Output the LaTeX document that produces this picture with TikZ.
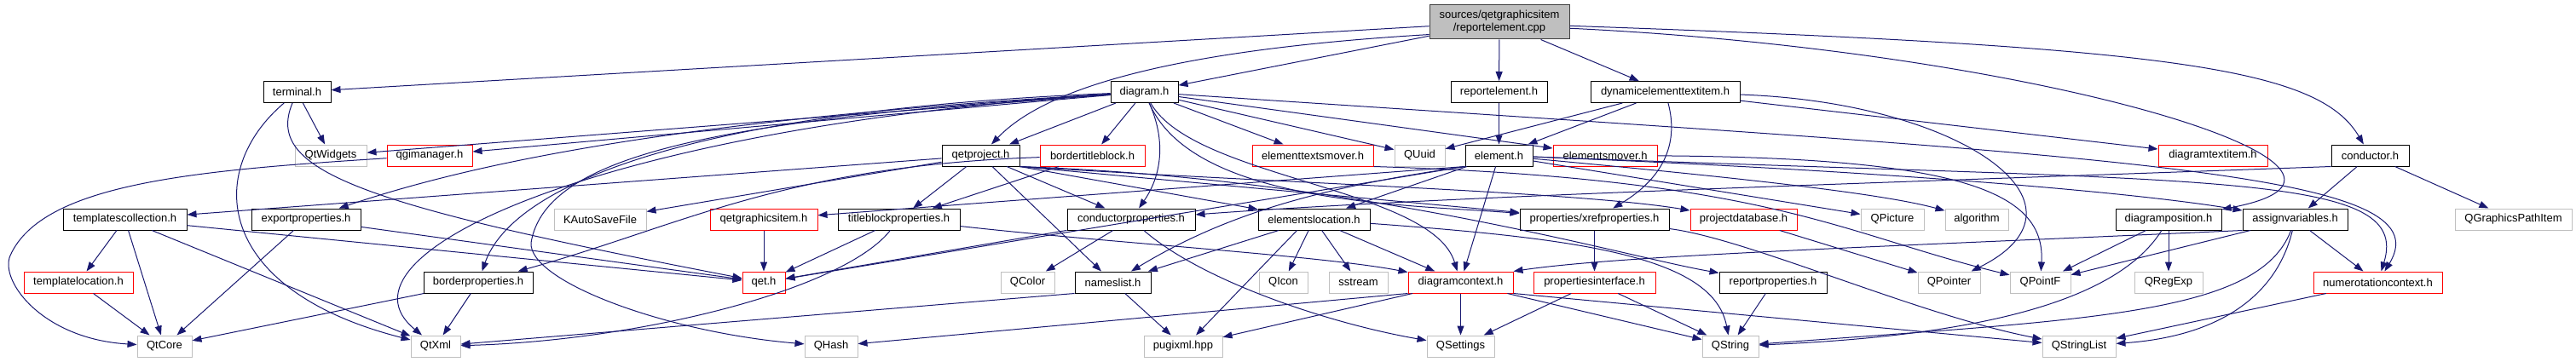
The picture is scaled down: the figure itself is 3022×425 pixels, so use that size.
\documentclass[tikz,border=0pt]{standalone}
\usepackage{fontspec}
\setmainfont{Liberation Sans}
\usetikzlibrary{arrows.meta}
\definecolor{depblue}{HTML}{191970}
\definecolor{extgray}{HTML}{BFBFBF}
\definecolor{truncred}{HTML}{FF0000}

\begin{document}
\begin{tikzpicture}[x=1pt, y=-1pt,
  every node/.style={font=\fontsize{13}{15}\selectfont, inner sep=0pt,
                     minimum height=25pt, line width=1pt},
  hdr/.style={draw=black, fill=white},
  trunc/.style={draw=truncred, fill=white},
  ext/.style={draw=extgray, fill=white},
  mainfile/.style={draw=black!75, fill=extgray, minimum height=40pt, align=center},
  dep/.style={-{Triangle[length=11pt,width=8pt]}, draw=depblue, line width=1pt}
]
\useasboundingbox (0,0) rectangle (3022,425);

\node[mainfile, minimum width=164pt] (root) at (1759,26) {sources/qetgraphicsitem\\/reportelement.cpp};

\node[hdr, minimum width=79pt] (terminal) at (348.5,108) {terminal.h};
\node[hdr, minimum width=79pt] (diagram) at (1342.5,108) {diagram.h};
\node[hdr, minimum width=113pt] (reportel) at (1758.5,108) {reportelement.h};
\node[hdr, minimum width=175pt] (dynitem) at (1953.5,108) {dynamicelementtextitem.h};

\node[ext, minimum width=84pt] (qtwidgets) at (388,182.5) {QtWidgets};
\node[trunc, minimum width=100pt] (qgimanager) at (504,182.5) {qgimanager.h};
\node[hdr, minimum width=91pt] (qetproject) at (1150.5,182.5) {qetproject.h};
\node[trunc, minimum width=123pt] (bordertb) at (1281.5,182.5) {bordertitleblock.h};
\node[trunc, minimum width=142pt] (eltextsmover) at (1540,182.5) {elementtextsmover.h};
\node[ext, minimum width=59pt] (quuid) at (1665.5,182.5) {QUuid};
\node[hdr, minimum width=79pt] (element) at (1758.5,182.5) {element.h};
\node[trunc, minimum width=122pt] (elmover) at (1883,182.5) {elementsmover.h};
\node[trunc, minimum width=128pt] (diagtextitem) at (2596,182.5) {diagramtextitem.h};
\node[hdr, minimum width=91pt] (conductor) at (2780.5,182.5) {conductor.h};

\node[hdr, minimum width=145pt] (tplcoll) at (146.5,257.5) {templatescollection.h};
\node[hdr, minimum width=128pt] (exportprop) at (359,257.5) {exportproperties.h};
\node[ext, minimum width=108pt] (kautosave) at (704,257.5) {KAutoSaveFile};
\node[trunc, minimum width=126pt] (qetgitem) at (896,257.5) {qetgraphicsitem.h};
\node[hdr, minimum width=143pt] (tbprop) at (1054.5,257.5) {titleblockproperties.h};
\node[hdr, minimum width=150pt] (condprop) at (1327,257.5) {conductorproperties.h};
\node[hdr, minimum width=131pt] (elloc) at (1541.5,257.5) {elementslocation.h};
\node[hdr, minimum width=175pt] (xrefprop) at (1870.5,257.5) {properties/xrefproperties.h};
\node[trunc, minimum width=125pt] (projdb) at (2045.5,257.5) {projectdatabase.h};
\node[ext, minimum width=74pt] (qpicture) at (2220,257.5) {QPicture};
\node[ext, minimum width=74pt] (algorithm) at (2319,257.5) {algorithm};
\node[hdr, minimum width=124pt] (diagpos) at (2544,257.5) {diagramposition.h};
\node[hdr, minimum width=123pt] (assignvar) at (2692.5,257.5) {assignvariables.h};
\node[ext, minimum width=137pt] (qgpathitem) at (2948.5,257.5) {QGraphicsPathItem};

\node[trunc, minimum width=128pt] (tplloc) at (92,331.5) {templatelocation.h};
\node[hdr, minimum width=128pt] (borderprop) at (561,331.5) {borderproperties.h};
\node[trunc, minimum width=50pt] (qet) at (896,331.5) {qet.h};
\node[ext, minimum width=63pt] (qcolor) at (1205.5,331.5) {QColor};
\node[hdr, minimum width=89pt] (nameslist) at (1305.5,331.5) {nameslist.h};
\node[ext, minimum width=57pt] (qicon) at (1505.5,331.5) {QIcon};
\node[ext, minimum width=69pt] (sstream) at (1593.5,331.5) {sstream};
\node[trunc, minimum width=123pt] (diagctx) at (1713.5,331.5) {diagramcontext.h};
\node[trunc, minimum width=143pt] (propiface) at (1870.5,331.5) {propertiesinterface.h};
\node[hdr, minimum width=126pt] (reportprop) at (2080,331.5) {reportproperties.h};
\node[ext, minimum width=73pt] (qpointer) at (2286.5,331.5) {QPointer};
\node[ext, minimum width=71pt] (qpointf) at (2393.5,331.5) {QPointF};
\node[ext, minimum width=80pt] (qregexp) at (2544,331.5) {QRegExp};
\node[trunc, minimum width=151pt] (numctx) at (2789.5,331.5) {numerotationcontext.h};

\node[ext, minimum width=64pt] (qtcore) at (193,406.5) {QtCore};
\node[ext, minimum width=58pt] (qtxml) at (511,406.5) {QtXml};
\node[ext, minimum width=62pt] (qhash) at (975,406.5) {QHash};
\node[ext, minimum width=92pt] (pugixml) at (1388,406.5) {pugixml.hpp};
\node[ext, minimum width=79pt] (qsettings) at (1713.5,406.5) {QSettings};
\node[ext, minimum width=66pt] (qstring) at (2030,406.5) {QString};
\node[ext, minimum width=86pt] (qstringlist) at (2439,406.5) {QStringList};

\draw[dep] (root) -- (terminal);
\draw[dep] (root.190) .. controls (1350,60) and (1220,110) .. (qetproject);
\draw[dep] (root) -- (diagram);
\draw[dep] (root) -- (reportel);
\draw[dep] (root) -- (dynitem);
\draw[dep] (root.-3) .. controls (2550,55) and (2720,80) .. (conductor);
\draw[dep] (root.-5) .. controls (2400,60) and (2850,200) .. (diagpos);

\draw[dep] (terminal) -- (qtwidgets);
\draw[dep] (terminal) .. controls (240,200) and (250,340) .. (qtxml);
\draw[dep] (terminal) .. controls (310,200) and (420,240) .. (qet);

\draw[dep] (diagram) -- (qtwidgets);
\draw[dep] (diagram) -- (qgimanager);
\draw[dep] (diagram) .. controls (800,140) and (560,190) .. (exportprop);
\draw[dep] (diagram) .. controls (700,150) and (380,300) .. (qtxml);
\draw[dep] (diagram) .. controls (800,130) and (600,220) .. (borderprop);
\draw[dep] (diagram) .. controls (850,140) and (640,180) .. (623,285) .. controls (620,330) and (780,390) .. (qhash);
\draw[dep] (diagram) -- (qetproject);
\draw[dep] (diagram) -- (bordertb);
\draw[dep] (diagram) .. controls (1370,170) and (1360,210) .. (condprop);
\draw[dep] (diagram) .. controls (1400,210) and (1680,220) .. (diagctx);
\draw[dep] (diagram) -- (eltextsmover);
\draw[dep] (diagram) -- (quuid);
\draw[dep] (diagram) -- (elmover);
\draw[dep] (diagram) .. controls (1400,240) and (1650,240) .. (xrefprop);
\draw[dep] (diagram) .. controls (2500,185) and (2870,200) .. (numctx);

\draw[dep] (qgimanager) .. controls (230,200) and (50,215) .. (12,300) .. controls (-1,330) and (50,398) .. (qtcore);

\draw[dep] (qetproject) -- (tplcoll);
\draw[dep] (qetproject) -- (kautosave);
\draw[dep] (qetproject) -- (tbprop);
\draw[dep] (qetproject) -- (condprop);
\draw[dep] (qetproject) -- (nameslist);
\draw[dep] (qetproject.south east) -- (elloc);
\draw[dep] (qetproject.south east) -- (xrefprop);
\draw[dep] (qetproject.south east) .. controls (1500,215) and (1850,225) .. (projdb);
\draw[dep] (qetproject.south east) .. controls (1600,210) and (1900,300) .. (reportprop);

\draw[dep] (bordertb) -- (tbprop);
\draw[dep] (bordertb) .. controls (920,195) and (800,265) .. (borderprop);

\draw[dep] (dynitem) -- (quuid);
\draw[dep] (dynitem) -- (element);
\draw[dep] (dynitem) .. controls (1970,170) and (1950,210) .. (xrefprop);
\draw[dep] (dynitem) -- (diagtextitem);
\draw[dep] (dynitem) .. controls (2300,120) and (2470,240) .. (qpointer);

\draw[dep] (reportel) -- (element);

\draw[dep] (element.south west) -- (qetgitem);
\draw[dep] (element) -- (elloc);
\draw[dep] (element.south west) .. controls (1550,220) and (1440,250) .. (nameslist);
\draw[dep] (element) -- (diagctx);
\draw[dep] (element.south west) -- (qet);
\draw[dep] (element) -- (qpicture);
\draw[dep] (element) .. controls (2000,205) and (2200,225) .. (algorithm);
\draw[dep] (element) .. controls (2200,200) and (2500,225) .. (assignvar);
\draw[dep] (element) .. controls (2600,215) and (2830,200) .. (numctx);

\draw[dep] (elmover) .. controls (2300,185) and (2400,225) .. (qpointf);
\draw[dep] (eltextsmover.south east) .. controls (2080,210) and (2160,275) .. (qpointf);

\draw[dep] (conductor.south west) .. controls (2200,215) and (1700,230) .. (condprop);
\draw[dep] (conductor) -- (assignvar);
\draw[dep] (conductor) -- (qgpathitem);

\draw[dep] (tplcoll) -- (tplloc);
\draw[dep] (tplcoll) -- (qtcore);
\draw[dep] (tplcoll) -- (qtxml);
\draw[dep] (tplcoll) -- (qet);
\draw[dep] (exportprop) -- (qtcore);
\draw[dep] (exportprop) -- (qet);
\draw[dep] (qetgitem) -- (qet);
\draw[dep] (tbprop) -- (qet);
\draw[dep] (tbprop) .. controls (990,340) and (750,400) .. (qtxml);
\draw[dep] (tbprop) .. controls (1300,285) and (1550,300) .. (diagctx);
\draw[dep] (condprop) -- (qcolor);
\draw[dep] (condprop) -- (qet);
\draw[dep] (condprop) .. controls (1410,330) and (1560,380) .. (qsettings);
\draw[dep] (elloc) -- (nameslist);
\draw[dep] (elloc) -- (qicon);
\draw[dep] (elloc) -- (sstream);
\draw[dep] (elloc) -- (diagctx);
\draw[dep] ([xshift=-20pt]elloc.south) -- ([xshift=15pt]pugixml.north);
\draw[dep] (elloc) .. controls (1850,280) and (2010,300) .. (qstring);
\draw[dep] (xrefprop) -- (propiface);
\draw[dep] (xrefprop) .. controls (2050,280) and (2250,370) .. (qstringlist);
\draw[dep] (projdb) -- (qpointer);
\draw[dep] (diagpos) -- (qpointf);
\draw[dep] (diagpos) -- (qregexp);
\draw[dep] (diagpos) .. controls (2480,360) and (2300,395) .. (qstring);
\draw[dep] (assignvar.south west) .. controls (2200,290) and (1900,300) .. (diagctx.north east);
\draw[dep] (assignvar) -- (qpointf);
\draw[dep] (assignvar) -- (numctx);
\draw[dep] (assignvar) .. controls (2650,370) and (2450,375) .. (qstring);
\draw[dep] (assignvar) .. controls (2670,350) and (2600,395) .. (qstringlist);
\draw[dep] (tplloc) -- (qtcore);
\draw[dep] (borderprop) -- (qtcore);
\draw[dep] (borderprop) -- (qtxml);
\draw[dep] (nameslist.south west) -- (qtxml);
\draw[dep] (nameslist) -- (pugixml);
\draw[dep] (diagctx.south west) -- (qhash);
\draw[dep] (diagctx) -- (pugixml);
\draw[dep] (diagctx) -- (qsettings);
\draw[dep] (diagctx) -- (qstring);
\draw[dep] (diagctx.south east) -- (qstringlist);
\draw[dep] (propiface) -- (qsettings);
\draw[dep] (propiface) -- (qstring);
\draw[dep] (reportprop) -- (qstring);
\draw[dep] (numctx) -- (qstringlist);
\end{tikzpicture}
\end{document}
